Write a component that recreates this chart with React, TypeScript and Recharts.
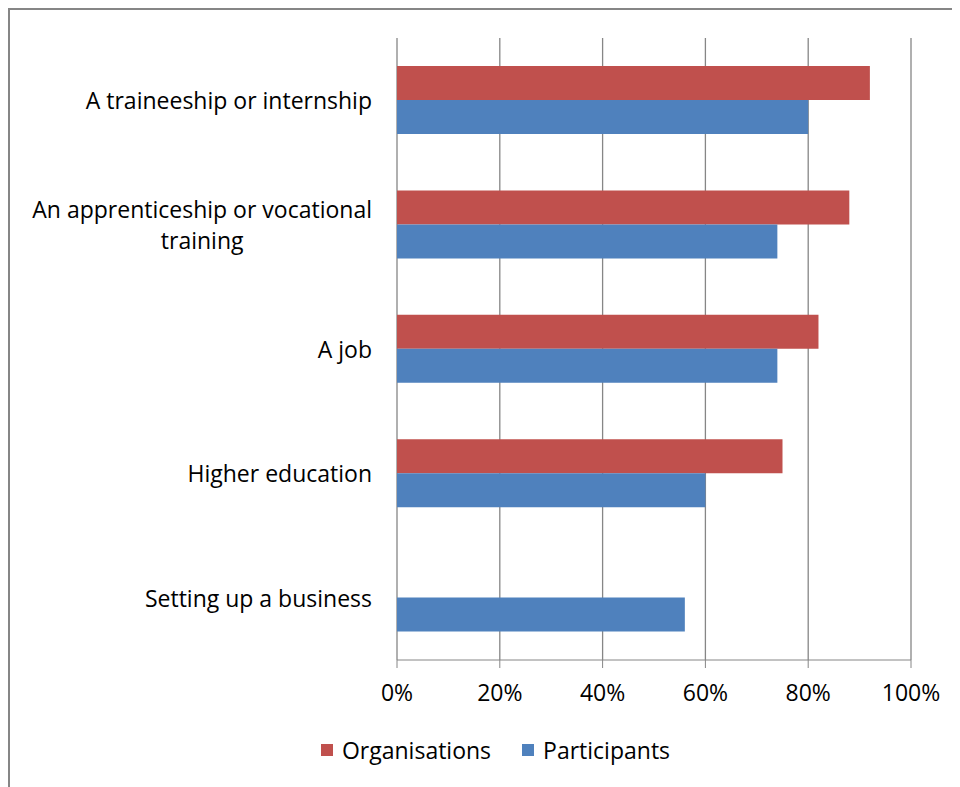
import { BarChart, Bar, XAxis, YAxis, CartesianGrid, Legend } from 'recharts';

const categories = [
  'A traineeship or internship',
  'An apprenticeship or vocational training',
  'A job',
  'Higher education',
  'Setting up a business',
];
const organisations = [92, 88, 82, 75, null];
const participants = [80, 74, 74, 60, 56];
const xTicks = [0, 20, 40, 60, 80, 100];
const bandEdges = [0, 1, 2, 3, 4, 5];

const RED = '#C0504D';
const BLUE = '#4F81BD';
const GRID = '#868686';
const FONT = '"Open Sans", sans-serif';
const FS = 23;

const data = categories.map((name, i) => ({
  name,
  org: organisations[i],
  part: participants[i],
}));

let ctx: CanvasRenderingContext2D | null = null;
function textWidth(s: string) {
  if (!ctx) ctx = document.createElement('canvas').getContext('2d');
  if (!ctx) return s.length * FS * 0.5;
  ctx.font = `${FS}px "Open Sans"`;
  return ctx.measureText(s).width;
}

function wrap(s: string, max: number) {
  const words = s.split(' ');
  const lines: string[] = [];
  let cur = '';
  for (const w of words) {
    const next = cur ? cur + ' ' + w : w;
    if (cur && textWidth(next) > max) {
      lines.push(cur);
      cur = w;
    } else cur = next;
  }
  if (cur) lines.push(cur);
  return lines;
}

const CategoryTick = ({ x, y, payload }: any) => {
  const lines = wrap(String(payload.value), 380);
  const w = Math.max(...lines.map(textWidth));
  const cx = x - w / 2;
  return (
    <g>
      {lines.map((l, i) => (
        <text
          key={i}
          x={cx}
          y={y + (i - (lines.length - 1) / 2) * 31}
          textAnchor="middle"
          dominantBaseline="central"
          fontFamily={FONT}
          fontSize={FS}
          fill="#000"
        >
          {l}
        </text>
      ))}
    </g>
  );
};

const LegendContent = () => (
  <div
    style={{
      display: 'flex', justifyContent: 'center', alignItems: 'center',
      height: 30, paddingLeft: 70, fontFamily: FONT, fontSize: FS, color: '#000',
    }}
  >
    {[['Organisations', RED], ['Participants', BLUE]].map(([label, c], i) => (
      <div key={label} style={{ display: 'flex', alignItems: 'center', marginLeft: i ? 31 : 0 }}>
        <span style={{ width: 12, height: 12, background: c, marginRight: 9, display: 'inline-block' }} />
        <span>{label}</span>
      </div>
    ))}
  </div>
);

export default function App() {
  return (
    <div style={{ width: 960, height: 787, border: `2px solid ${GRID}`, boxSizing: 'border-box', overflow: 'hidden', background: '#fff' }}>
      <BarChart
        width={950}
        height={777}
        data={data}
        layout="vertical"
        margin={{ top: 28, right: 49, left: 0, bottom: 22 }}
        barCategoryGap="22.5%"
        barGap={0}
      >
        <CartesianGrid horizontal={false} stroke={GRID} strokeWidth={1.3} />
        <XAxis
          type="number"
          domain={[0, 100]}
          ticks={xTicks}
          tickFormatter={(v) => `${v}%`}
          height={75}
          tickSize={8}
          tickMargin={17}
          stroke={GRID}
          tick={{ fontFamily: FONT, fontSize: FS, fill: '#000' }}
        />
        <YAxis
          type="category"
          dataKey="name"
          width={387}
          axisLine={false}
          tickLine={false}
          tickSize={0}
          tickMargin={25}
          tick={<CategoryTick />}
        />
        <YAxis
          yAxisId="edges"
          type="number"
          domain={[0, 5]}
          ticks={bandEdges}
          width={0}
          tickSize={11}
          stroke={GRID}
          strokeWidth={1.3}
          tickFormatter={() => ''}
        />
        <Legend verticalAlign="bottom" content={<LegendContent />} />
        <Bar dataKey="org" name="Organisations" fill={RED} isAnimationActive={false} />
        <Bar dataKey="part" name="Participants" fill={BLUE} isAnimationActive={false} />
      </BarChart>
    </div>
  );
}
